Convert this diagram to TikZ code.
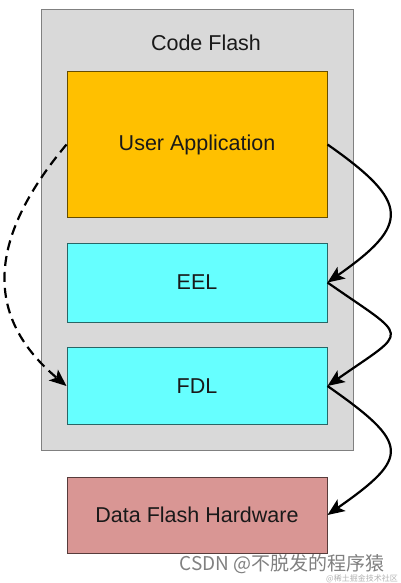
\documentclass[tikz,border=0pt]{standalone}
\usepackage{fontspec}
\setmainfont{Liberation Sans}
\newfontfamily\cjkfont{Noto Sans CJK SC}
\usetikzlibrary{arrows.meta}
\definecolor{flashgray}{HTML}{D9D9D9}
\definecolor{appor}{HTML}{FFC000}
\definecolor{libcyan}{HTML}{66FFFF}
\definecolor{hwpink}{HTML}{D99694}
\begin{document}
\begin{tikzpicture}[x=1pt,y=-1pt,
  blk/.style={draw, line width=1pt, minimum width=260pt, inner sep=0pt,
    font=\fontsize{21.5}{24}\selectfont, text=black!90},
  flow/.style={line width=2.2pt, -{Stealth[length=17pt,width=14pt,inset=4pt]}},
  lbl/.style={font=\fontsize{21.5}{24}\selectfont, text=black!90},
]
\useasboundingbox (0,0) rectangle (401,583);
\node[draw=black!50, fill=flashgray, line width=1pt, minimum width=312pt,
      minimum height=440pt, inner sep=0pt] (cf) at (197,230) {};
\node[lbl] (cft) at (206,43) {Code Flash};
\node[blk, fill=appor, draw=appor!40!black, minimum height=145pt] (ua) at (197,144.5) {User Application};
\node[blk, fill=libcyan, draw=libcyan!40!black, minimum height=79pt] (eel) at (197,282.5) {EEL};
\node[blk, fill=libcyan, draw=libcyan!40!black, minimum height=77pt] (fdl) at (197,386) {FDL};
\node[blk, fill=hwpink, draw=hwpink!40!black, minimum height=76pt] (dfh) at (197,515) {Data Flash Hardware};
\draw[flow] (ua.east) .. controls +(35:101) and +(-35:101) .. (eel.east);
\draw[flow] (eel.east) .. controls +(35:101) and +(-35:101) .. (fdl.east);
\draw[flow] (fdl.east) .. controls +(35:101) and +(-35:101) .. (dfh.east);
\draw[flow, dash pattern=on 10pt off 6pt] (ua.west) .. controls +(130:126) and +(220:106) .. (fdl.west);
\node[font=\cjkfont\fontsize{19}{21}\selectfont, text=black!50, anchor=east, inner sep=0pt] (wm) at (385,564) {CSDN @不脱发的程序猿};
\node[font=\cjkfont\fontsize{8}{9}\selectfont, text=black!30, anchor=east, inner sep=0pt] (wm2) at (398,579) {@稀土掘金技术社区};
\end{tikzpicture}
\end{document}
